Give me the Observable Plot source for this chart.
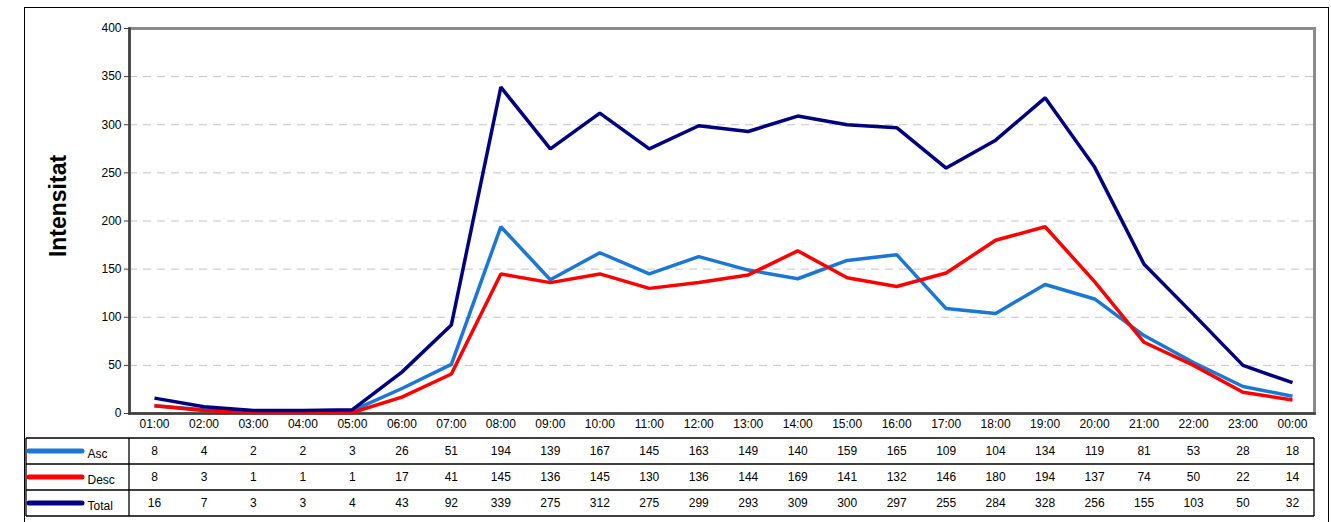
<!DOCTYPE html>
<html><head><meta charset="utf-8">
<script src="https://cdn.jsdelivr.net/npm/d3@7"></script>
<script src="https://cdn.jsdelivr.net/npm/@observablehq/plot@0.6"></script>
<style>
body{margin:0;background:#fff;}
#wrap{position:relative;width:1331px;height:522px;overflow:hidden;font-family:"Liberation Sans",Arial,sans-serif;}
#border{position:absolute;left:24px;top:7px;width:1305px;height:530px;border:1.5px solid #000;box-sizing:border-box;}
#chart{position:absolute;left:0;top:0;}
#table{position:absolute;left:0;top:437px;}
</style></head><body>
<div id="wrap"><div id="border"></div><div id="chart"></div><div id="table"></div></div>
<script>
const hours = ["01:00","02:00","03:00","04:00","05:00","06:00","07:00","08:00","09:00","10:00","11:00","12:00","13:00","14:00","15:00","16:00","17:00","18:00","19:00","20:00","21:00","22:00","23:00","00:00"];
const asc   = [8,4,2,2,3,26,51,194,139,167,145,163,149,140,159,165,109,104,134,119,81,53,28,18];
const desc  = [8,3,1,1,1,17,41,145,136,145,130,136,144,169,141,132,146,180,194,137,74,50,22,14];
const total = [16,7,3,3,4,43,92,339,275,312,275,299,293,309,300,297,255,284,328,256,155,103,50,32];
const seriesNames = ["Asc","Desc","Total"];
const seriesColors = ["#1a77d6","#ff0000","#000080"];
const yTicks = [0,50,100,150,200,250,300,350,400];
const yTitle = "Intensitat";

const seriesValues = [asc, desc, total];
const rows = [];
seriesNames.forEach((s,i)=>hours.forEach((h,j)=>rows.push({series:s,hour:h,value:seriesValues[i][j]})));

const font = '"Liberation Sans", Arial, sans-serif';
const xRange = [154, 1292];

const chart = Plot.plot({
  width:1331, height:437,
  marginLeft:129, marginRight:17, marginTop:28, marginBottom:24,
  style:{fontFamily:font, fontSize:"12px", background:"transparent", color:"#000", overflow:"visible"},
  x:{type:"point", domain:hours, range:xRange, padding:0, round:false},
  y:{domain:[0,400]},
  color:{domain:seriesNames, range:seriesColors},
  marks:[
    Plot.gridY(yTicks.filter(t=>t>0 && t<400), {stroke:"#c4c4c4", strokeOpacity:1, strokeDasharray:"8,6", strokeWidth:1}),
    Plot.frame({stroke:"#8a8a8a", strokeWidth:3}),
    Plot.frame({anchor:"left", stroke:"#404040", strokeWidth:2.5}),
    Plot.frame({anchor:"bottom", stroke:"#404040", strokeWidth:2.5}),
    Plot.axisY(yTicks, {tickSize:5, tickPadding:3, label:null, fontSize:12, stroke:"#404040"}),
    Plot.axisX({tickSize:0, tickPadding:6, label:null, fontSize:12}),
    Plot.line(rows, {x:"hour", y:"value", z:"series", stroke:"series", strokeWidth:3.5, strokeLinejoin:"miter", strokeLinecap:"butt"}),
    Plot.text([yTitle], {frameAnchor:"left", dx:-71, dy:-15, rotate:-90, textAnchor:"middle", text:d=>d, fontSize:23, fontWeight:"bold"})
  ]
});
document.getElementById("chart").appendChild(chart);

const table = Plot.plot({
  width:1331, height:85,
  marginLeft:129, marginRight:17, marginTop:0, marginBottom:6,
  style:{fontFamily:font, fontSize:"12px", background:"transparent", color:"#000", overflow:"visible"},
  x:{type:"point", domain:hours, range:xRange, padding:0, round:false, axis:null},
  y:{type:"band", domain:seriesNames, padding:0, axis:null},
  marks:[
    Plot.text(rows, {x:"hour", y:"series", text:"value", fontSize:12}),
    Plot.text(seriesNames, {y:d=>d, text:d=>d, frameAnchor:"left", dx:-42, dy:3, textAnchor:"start", fontSize:12})
  ]
});
document.getElementById("table").appendChild(table);

// table grid and legend swatches positioned from the table's scales
const ys = table.scale("y");
const svg = d3.select(table);
const bw = ys.bandwidth;
const edges = seriesNames.map(s=>ys.apply(s)).concat([ys.apply(seriesNames[seriesNames.length-1])+bw]);
const g = svg.append("g");
edges.forEach(y=>g.append("line").attr("x1",26).attr("x2",1314).attr("y1",y).attr("y2",y).attr("stroke","#000").attr("stroke-width",1.3));
[26,129,1314].forEach(x=>g.append("line").attr("x1",x).attr("x2",x).attr("y1",edges[0]).attr("y2",edges[edges.length-1]).attr("stroke","#000").attr("stroke-width",1.3));
seriesNames.forEach((s,i)=>{
  const y = ys.apply(s)+bw/2;
  g.append("line").attr("x1",29).attr("x2",82).attr("y1",y).attr("y2",y)
    .attr("stroke",seriesColors[i]).attr("stroke-width",5).attr("stroke-linecap","round");
});
</script>
</body></html>
